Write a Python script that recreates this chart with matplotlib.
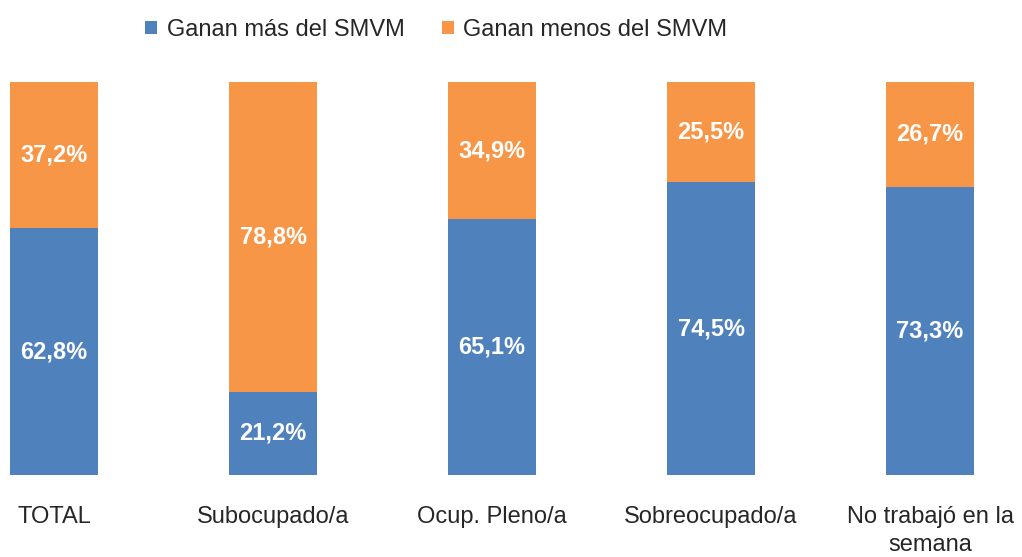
import numpy as np
import matplotlib
matplotlib.use("Agg")
import matplotlib.pyplot as plt

categorias = ["TOTAL", "Subocupado/a", "Ocup. Pleno/a", "Sobreocupado/a", "No trabajó en la\nsemana"]
ganan_mas = [62.8, 21.2, 65.1, 74.5, 73.3]
ganan_menos = [37.2, 78.8, 34.9, 25.5, 26.7]

azul = "#4F81BD"
naranja = "#F79646"

plt.rcParams["font.family"] = ["Liberation Sans", "DejaVu Sans"]

fig = plt.figure(figsize=(10.22, 5.57), dpi=100)
ax = fig.add_axes([0, 0.1472, 1, 0.7056])

x = np.arange(len(categorias))
mas = np.array(ganan_mas)
menos = np.array(ganan_menos)

b1 = ax.bar(x, mas, width=0.4, color=azul, label="Ganan más del SMVM")
b2 = ax.bar(x, menos, width=0.4, bottom=mas, color=naranja, label="Ganan menos del SMVM")

# etiquetas de datos
for i in range(len(x)):
    ax.text(x[i], mas[i] / 2, f"{ganan_mas[i]:.1f}%".replace(".", ","),
            ha="center", va="center", color="white", fontsize=17, fontweight="bold")
    ax.text(x[i], mas[i] + menos[i] / 2, f"{ganan_menos[i]:.1f}%".replace(".", ","),
            ha="center", va="center", color="white", fontsize=17, fontweight="bold")

ax.set_xlim(-0.2466, 4.42)
ax.set_ylim(0, 100)
ax.set_xticks(x)
ax.set_xticklabels(categorias, fontsize=17, color="#262626", linespacing=1.4)
ax.tick_params(axis="x", length=0, pad=22)
ax.set_yticks([])
for s in ax.spines.values():
    s.set_visible(False)

fig.legend(handles=[b1, b2], loc="center", bbox_to_anchor=(0.427, 0.946), ncol=2,
           frameon=False, fontsize=17, handlelength=0.5, handleheight=0.5,
           handletextpad=0.4, columnspacing=1.6, labelcolor="#262626")

fig.savefig("out.png", dpi=100)
